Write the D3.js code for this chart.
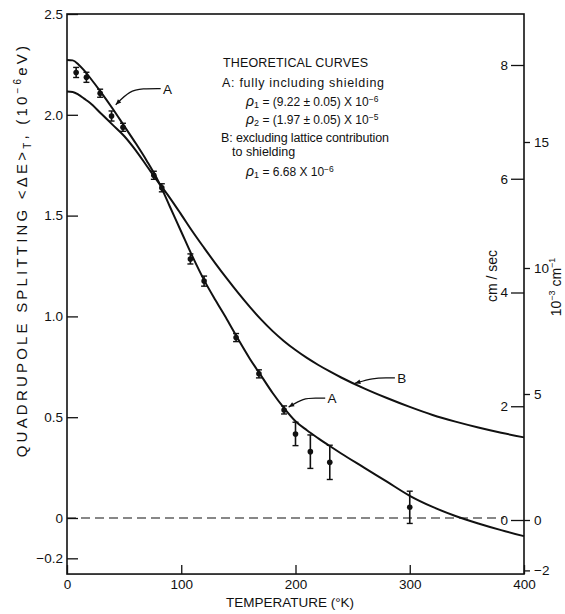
<!DOCTYPE html>
<html>
<head>
<meta charset="utf-8">
<script src="https://cdn.jsdelivr.net/npm/d3@7"></script>
<style>
  body { margin: 0; background: #fff; }
  text { font-family: "Liberation Sans", Arial, sans-serif; fill: #111; }
</style>
</head>
<body>
<script>
// measured points (temperature K, splitting 1e-6 eV, error half-width)
const temps = [8, 17, 29, 39, 49, 76, 83, 108, 120, 148, 168, 190, 200, 213, 230, 300]
const splitting = [2.21, 2.186, 2.107, 1.994, 1.938, 1.70, 1.638, 1.285, 1.175, 0.895, 0.715, 0.536, 0.417, 0.329, 0.276, 0.053]
const errors = [0.025, 0.025, 0.02, 0.025, 0.02, 0.02, 0.02, 0.025, 0.025, 0.02, 0.02, 0.02, 0.058, 0.083, 0.085, 0.08]

// theoretical curves
const curveT = [0, 5, 10, 15, 20, 30, 40, 50, 60, 70, 80, 90, 100, 110, 120, 130, 140, 150, 160, 170, 180, 190, 200, 210, 220, 230, 240, 260, 280, 300, 320, 340, 360, 380, 400]
const curveA = [2.272, 2.27, 2.25, 2.22, 2.185, 2.11, 2.03, 1.945, 1.86, 1.77, 1.67, 1.545, 1.42, 1.295, 1.18, 1.08, 0.985, 0.885, 0.79, 0.705, 0.62, 0.545, 0.48, 0.435, 0.395, 0.357, 0.32, 0.25, 0.18, 0.11, 0.055, 0.01, -0.027, -0.06, -0.09]
const curveB = [2.115, 2.113, 2.1, 2.08, 2.06, 2.005, 1.95, 1.895, 1.825, 1.745, 1.665, 1.588, 1.505, 1.42, 1.34, 1.262, 1.187, 1.115, 1.047, 0.984, 0.927, 0.877, 0.833, 0.794, 0.759, 0.727, 0.697, 0.643, 0.595, 0.551, 0.511, 0.478, 0.449, 0.423, 0.4]

// tick labels
const xTicks = [0, 100, 200, 300, 400]
const yTicks = [2.5, 2.0, 1.5, 1.0, 0.5, 0, -0.2]
const velTicks = [0, 2, 4, 6, 8]
const waveTicks = [-2, 0, 5, 10, 15]

const W = 565, H = 614

const svg = d3.select('body').append('svg')
  .attr('width', W)
  .attr('height', H)

const x = d3.scaleLinear().domain([0, 400]).range([67, 524])
const y = d3.scaleLinear().domain([0, 2.5]).range([518, 14])
const yVel = d3.scaleLinear().domain([0, 8]).range([520, 65])
const yWave = d3.scaleLinear().domain([0, 15]).range([520, 142])

const bottom = y(-0.278)

// frame
svg.append('rect')
  .attr('x', x(0)).attr('y', y(2.5))
  .attr('width', x(400) - x(0)).attr('height', bottom - y(2.5))
  .attr('fill', 'none').attr('stroke', '#111').attr('stroke-width', 1.6)

function style (g) {
  g.select('.domain').remove()
  g.selectAll('line').attr('stroke', '#111').attr('stroke-width', 1.3)
  g.selectAll('text').attr('font-size', 13.5).attr('font-family', null).attr('fill', '#111')
}

svg.append('g')
  .attr('transform', `translate(${x(0)},0)`)
  .call(d3.axisLeft(y).tickValues(yTicks).tickSize(-11).tickPadding(4)
    .tickFormat(d => d === 0 ? '0' : d3.format('.1f')(d)))
  .call(style)

svg.append('g')
  .attr('transform', `translate(0,${bottom})`)
  .call(d3.axisBottom(x).tickValues(xTicks).tickSize(-9).tickPadding(5))
  .call(style)

svg.append('g')
  .attr('transform', `translate(${x(400)},0)`)
  .call(d3.axisLeft(yVel).tickValues(velTicks).tickSize(13).tickPadding(3))
  .call(style)

svg.append('g')
  .attr('transform', `translate(${x(400)},0)`)
  .call(d3.axisRight(yWave).tickValues(waveTicks).tickSize(6).tickPadding(4))
  .call(style)

// zero line
svg.append('line')
  .attr('x1', x(0)).attr('x2', x(400) - 20)
  .attr('y1', y(0)).attr('y2', y(0))
  .attr('stroke', '#111').attr('stroke-width', 1.2)
  .attr('stroke-dasharray', '9,5')

// curves
const line = d3.line()
  .x((d, i) => x(curveT[i]))
  .y(d => y(d))
  .curve(d3.curveMonotoneX)

svg.append('path').datum(curveA).attr('d', line)
  .attr('fill', 'none').attr('stroke', '#111').attr('stroke-width', 2)
svg.append('path').datum(curveB).attr('d', line)
  .attr('fill', 'none').attr('stroke', '#111').attr('stroke-width', 2)

// data points with error bars
const pts = temps.map((t, i) => ({ t, e: splitting[i], err: errors[i] }))
const pg = svg.append('g').selectAll('g').data(pts).enter().append('g')
pg.append('line')
  .attr('x1', d => x(d.t)).attr('x2', d => x(d.t))
  .attr('y1', d => y(d.e - d.err)).attr('y2', d => y(d.e + d.err))
  .attr('stroke', '#111').attr('stroke-width', 1.6)
pg.each(function (d) {
  const g = d3.select(this)
  ;[d.e - d.err, d.e + d.err].forEach(v => {
    g.append('line')
      .attr('x1', x(d.t) - 3).attr('x2', x(d.t) + 3)
      .attr('y1', y(v)).attr('y2', y(v))
      .attr('stroke', '#111').attr('stroke-width', 1.4)
  })
})
pg.append('circle')
  .attr('cx', d => x(d.t)).attr('cy', d => y(d.e))
  .attr('r', 2.8).attr('fill', '#111')

// curve labels with leaders
function leader (pts, lx, ly, txt) {
  svg.append('path')
    .attr('d', d3.line().curve(d3.curveBasis)(pts))
    .attr('fill', 'none').attr('stroke', '#111').attr('stroke-width', 1.2)
  svg.append('text').attr('x', lx).attr('y', ly)
    .attr('font-size', 13.5).text(txt)
  const [a, b] = pts
  const ang = Math.atan2(a[1] - b[1], a[0] - b[0])
  svg.append('path')
    .attr('d', `M${a[0]},${a[1]} L${a[0] - 6 * Math.cos(ang - 0.4)},${a[1] - 6 * Math.sin(ang - 0.4)} L${a[0] - 6 * Math.cos(ang + 0.4)},${a[1] - 6 * Math.sin(ang + 0.4)} Z`)
    .attr('fill', '#111')
}
leader([[x(40) + 3, y(2.05)], [x(55), y(2.12)], [x(66), y(2.13)], [x(82), y(2.13)]], x(84), y(2.13) + 5, 'A')
leader([[x(194), y(0.55)], [x(207), y(0.595)], [x(218), y(0.595)], [x(226), y(0.595)]], x(228), y(0.595) + 5, 'A')
leader([[x(252), y(0.668)], [x(268), y(0.695)], [x(280), y(0.695)], [x(287), y(0.695)]], x(289), y(0.695) + 5, 'B')

// text block
const tb = svg.append('g')
tb.append('text').attr('x', 223).attr('y', 67).attr('font-size', 12.5)
  .attr('textLength', 145).text('THEORETICAL CURVES')
tb.append('text').attr('x', 222).attr('y', 87).attr('font-size', 12.5)
  .attr('textLength', 162).text('A: fully including shielding')

function rho (yy, sub, rest, sup) {
  const t = tb.append('text').attr('x', 246).attr('y', yy).attr('font-size', 12)
  t.append('tspan').attr('font-size', 14).attr('font-style', 'italic').text('ρ')
  t.append('tspan').attr('font-size', 9).attr('dy', 2).text(sub)
  t.append('tspan').attr('dy', -2).text(' ' + rest)
  t.append('tspan').attr('font-size', 8.5).attr('dy', -4).text(sup)
}
rho(106, '1', '= (9.22 ± 0.05) X 10', '−6')
rho(124, '2', '= (1.97 ± 0.05) X 10', '−5')
tb.append('text').attr('x', 221).attr('y', 142).attr('font-size', 12.5)
  .attr('textLength', 168).text('B: excluding lattice contribution')
tb.append('text').attr('x', 232).attr('y', 156).attr('font-size', 12.5)
  .text('to shielding')
rho(176, '1', '= 6.68 X 10', '−6')

// axis titles
svg.append('text')
  .attr('x', 290).attr('y', 607)
  .attr('text-anchor', 'middle').attr('font-size', 13.5)
  .text('TEMPERATURE (°K)')

const yl = svg.append('text')
  .attr('transform', 'translate(27,250) rotate(-90)')
  .attr('text-anchor', 'middle').attr('font-size', 15)
  .attr('letter-spacing', 3.2)
yl.append('tspan').text('QUADRUPOLE SPLITTING <ΔE>')
yl.append('tspan').attr('font-size', 10).attr('dy', 4).text('T')
yl.append('tspan').attr('dy', -4).text(', (10')
yl.append('tspan').attr('font-size', 10).attr('dy', -6).text('−6')
yl.append('tspan').attr('dy', 6).text('eV)')

svg.append('text')
  .attr('transform', 'translate(497,276) rotate(-90)')
  .attr('text-anchor', 'middle').attr('font-size', 14)
  .text('cm / sec')

const wl = svg.append('text')
  .attr('transform', 'translate(561,287) rotate(-90)')
  .attr('text-anchor', 'middle').attr('font-size', 14)
wl.append('tspan').text('10')
wl.append('tspan').attr('font-size', 9).attr('dy', -6).text('−3')
wl.append('tspan').attr('dy', 6).text(' cm')
wl.append('tspan').attr('font-size', 9).attr('dy', -6).text('−1')
</script>
</body>
</html>
